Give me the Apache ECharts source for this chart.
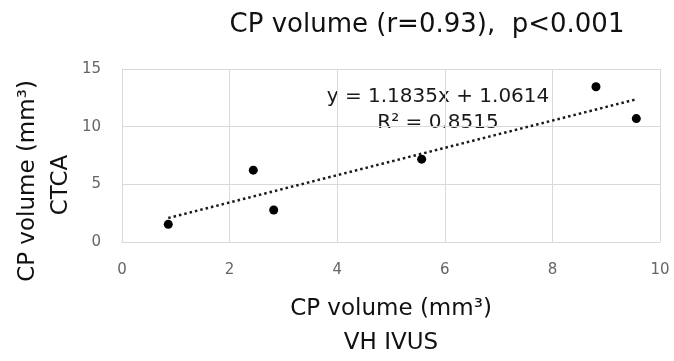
<!DOCTYPE html>
<html>
<head>
<meta charset="utf-8">
<script src="https://cdn.jsdelivr.net/npm/echarts@6/dist/echarts.min.js"></script>
<style>
  html, body { margin: 0; padding: 0; background: #fff; }
  #chart { width: 674px; height: 361px; }
</style>
</head>
<body>
<div id="chart"></div>
<script>
// CP volume measured by VH IVUS (x) and CTCA (y), mm³
const ivusVolume = [0.86, 2.44, 2.82, 5.57, 8.81, 9.56];
const ctcaVolume = [1.53, 6.23, 2.77, 7.18, 13.46, 10.70];

// Linear fit reported for the data
const fitSlope = 1.1835;
const fitIntercept = 1.0614;
const fitR2 = 0.8515;

const xTicks = { min: 0, max: 10, step: 2 };
const yTicks = { min: 0, max: 15, step: 5 };

const titleText = 'CP volume (r=0.93),  p<0.001';
const xName = 'CP volume (mm³)\nVH IVUS';
const yNameLine1 = 'CP volume (mm³)';
const yNameLine2 = 'CTCA';

const points = ivusVolume.map((x, i) => [x, ctcaVolume[i]]);
const xLo = Math.min(...ivusVolume);
const xHi = Math.max(...ivusVolume);
const fitLine = [xLo, xHi].map(x => [x, fitSlope * x + fitIntercept]);

const FONT = 'DejaVu Sans';
const INK = '#111';
const chart = echarts.init(document.getElementById('chart'));

chart.setOption({
  animation: false,
  title: {
    text: titleText,
    left: 427,
    top: 12,
    padding: 0,
    textAlign: 'center',
    textStyle: { fontFamily: FONT, fontSize: 26, fontWeight: 'normal', color: INK }
  },
  grid: { left: 122, right: 14, top: 69, bottom: 112 },
  xAxis: {
    type: 'value',
    min: xTicks.min, max: xTicks.max, interval: xTicks.step,
    name: xName,
    nameLocation: 'middle',
    nameGap: 50,
    nameTextStyle: { fontFamily: FONT, fontSize: 23, color: INK, lineHeight: 34 },
    axisLine: { show: true, lineStyle: { color: '#d9d9d9', width: 1 } },
    axisTick: { show: false },
    axisLabel: { fontFamily: FONT, fontSize: 15, color: '#666', margin: 21 },
    splitLine: { show: true, lineStyle: { color: '#d9d9d9', width: 1 } }
  },
  yAxis: {
    type: 'value',
    min: yTicks.min, max: yTicks.max, interval: yTicks.step,
    axisLine: { show: true, lineStyle: { color: '#d9d9d9', width: 1 } },
    axisTick: { show: false },
    axisLabel: { fontFamily: FONT, fontSize: 15, color: '#666', margin: 21 },
    splitLine: { show: true, lineStyle: { color: '#d9d9d9', width: 1 } }
  },
  graphic: [
    {
      type: 'text', x: 28, y: 181, rotation: Math.PI / 2,
      style: { text: yNameLine1, fontFamily: FONT, fontSize: 23, fill: INK, align: 'center', verticalAlign: 'middle' }
    },
    {
      type: 'text', x: 61, y: 185, rotation: Math.PI / 2,
      style: { text: yNameLine2, fontFamily: FONT, fontSize: 23, fill: INK, align: 'center', verticalAlign: 'middle' }
    },
    {
      type: 'text', x: 438, y: 97,
      style: { text: 'y = ' + fitSlope.toFixed(4) + 'x + ' + fitIntercept.toFixed(4), fontFamily: FONT, fontSize: 20, fill: '#1a1a1a', align: 'center', verticalAlign: 'middle' }
    },
    {
      type: 'text', x: 438, y: 123,
      style: { text: 'R² = ' + fitR2.toFixed(4), fontFamily: FONT, fontSize: 20, fill: '#1a1a1a', align: 'center', verticalAlign: 'middle' }
    }
  ],
  series: [
    {
      name: 'Linear fit',
      type: 'line',
      data: fitLine,
      symbol: 'none',
      lineStyle: { color: '#1a1a1a', width: 2.5, type: [2.5, 3] },
      z: 2
    },
    {
      name: 'CP volume',
      type: 'scatter',
      data: points,
      symbol: 'circle',
      symbolSize: 9,
      itemStyle: { color: '#000', opacity: 1 },
      z: 3
    }
  ]
});
</script>
</body>
</html>
